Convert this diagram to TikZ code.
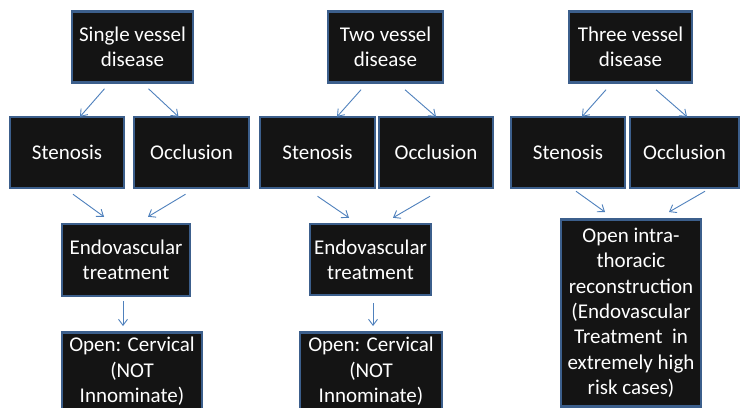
\documentclass[tikz,border=0pt]{standalone}
\usepackage{fontspec}
\setmainfont{Carlito}
\usetikzlibrary{arrows.meta}
\definecolor{boxline}{HTML}{3C5F8C}
\definecolor{boxfill}{HTML}{141414}
\definecolor{arr}{HTML}{4F81BD}
\begin{document}
\begin{tikzpicture}[x=1pt,y=-1pt,
  blk/.style={fill=boxfill,draw=boxline,line width=2.5pt,text=white,align=center,inner sep=0pt,minimum height=71pt,font=\fontsize{21}{25.4}\selectfont},
  lnk/.style={draw=arr,line width=0.9pt,-{Straight Barb[length=6pt,width=9pt]}}]
\useasboundingbox (0,0) rectangle (741,407);
\clip (0,0) rectangle (741,407);
\fill[white] (0,0) rectangle (741,407);
% single vessel
\node[blk,minimum width=121pt] (top1) at (132.5,47) {Single vessel\\disease};
\node[blk,minimum width=114pt] (sten1) at (67,152.5) {Stenosis};
\node[blk,minimum width=115pt] (occl1) at (191.5,152.5) {Occlusion};
\node[blk,minimum width=128pt,minimum height=72pt] (endo1) at (126,260) {Endovascular\\treatment};
\node[blk,minimum width=140pt,minimum height=78pt,anchor=north] (open1) at (132,331) {Open: Cervical\\(NOT\\Innominate)};
% two vessel
\node[blk,minimum width=115pt] (top2) at (385.5,47) {Two vessel\\disease};
\node[blk,minimum width=115pt] (sten2) at (317.5,152.5) {Stenosis};
\node[blk,minimum width=114pt] (occl2) at (436,152.5) {Occlusion};
\node[blk,minimum width=121pt] (endo2) at (370.5,259.5) {Endovascular\\treatment};
\node[blk,minimum width=142pt,minimum height=78pt,anchor=north] (open2) at (371,331) {Open: Cervical\\(NOT\\Innominate)};
% three vessel
\node[blk,minimum width=123pt] (top3) at (630.5,47) {Three vessel\\disease};
\node[blk,minimum width=114pt] (sten3) at (568,152.5) {Stenosis};
\node[blk,minimum width=109pt] (occl3) at (684.5,152.5) {Occlusion};
\node[blk,minimum width=140pt,minimum height=187pt,anchor=north] (open3) at (631,218) {Open intra-\\thoracic\\reconstruction\\(Endovascular\\Treatment~ in\\extremely high\\risk cases)};
% links
\draw[lnk] ([xshift=-28pt,yshift=-5pt]top1.south) -- ([xshift=13pt,yshift=-1pt]sten1.north);
\draw[lnk] ([xshift=16pt,yshift=-5pt]top1.south) -- ([xshift=-13pt,yshift=-1pt]occl1.north);
\draw[lnk] ([xshift=6pt,yshift=-5pt]sten1.south) -- ([xshift=-22pt,yshift=6pt]endo1.north);
\draw[lnk] ([xshift=-6pt,yshift=-5pt]occl1.south) -- ([xshift=22pt,yshift=6pt]endo1.north);
\draw[lnk] ([xshift=-3pt,yshift=-4pt]endo1.south) -- ([xshift=-9pt,yshift=5pt]open1.north);
\draw[lnk] ([xshift=-24.5pt,yshift=-6pt]top2.south) -- ([xshift=19.5pt,yshift=-1pt]sten2.north);
\draw[lnk] ([xshift=19.5pt,yshift=-6pt]top2.south) -- ([yshift=-1pt]occl2.north);
\draw[lnk] ([yshift=-7pt]sten2.south) -- ([xshift=-21.5pt,yshift=5pt]endo2.north);
\draw[lnk] ([xshift=-6pt,yshift=-7pt]occl2.south) -- ([xshift=22.5pt,yshift=5pt]endo2.north);
\draw[lnk] ([xshift=2.5pt,yshift=-7pt]endo2.south) -- ([xshift=2pt,yshift=5pt]open2.north);
\draw[lnk] ([xshift=-24.5pt,yshift=-6pt]top3.south) -- ([xshift=14pt,yshift=-1pt]sten3.north);
\draw[lnk] ([xshift=25.5pt,yshift=-6pt]top3.south) -- ([xshift=2.5pt,yshift=-1pt]occl3.north);
\draw[lnk] ([xshift=8pt,yshift=-2pt]sten3.south) -- ([xshift=-26pt,yshift=6pt]open3.north);
\draw[lnk] ([xshift=20.5pt,yshift=-2pt]occl3.south) -- ([xshift=38pt,yshift=6pt]open3.north);
\end{tikzpicture}
\end{document}
